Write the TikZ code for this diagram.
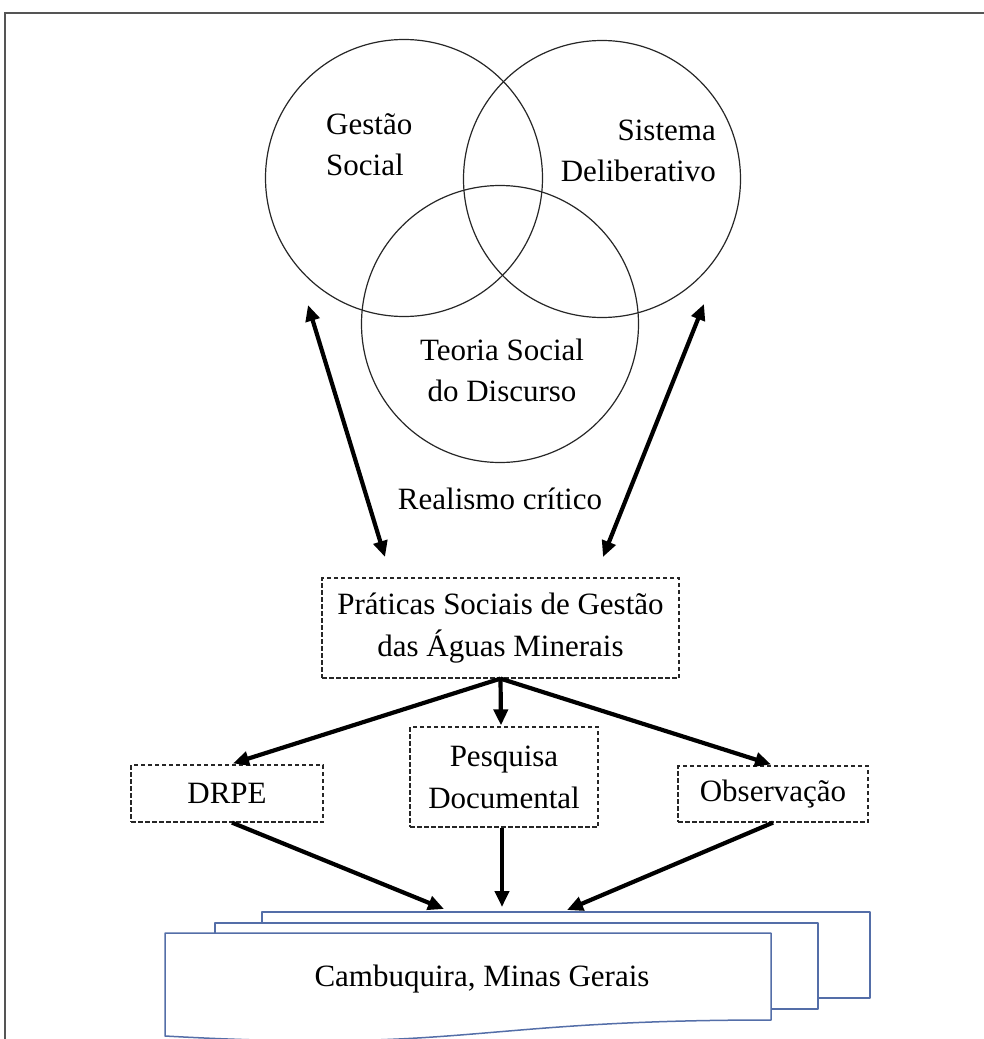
\documentclass[tikz,border=0pt]{standalone}
\usepackage{fontspec}
\setmainfont{Liberation Serif}
\usetikzlibrary{arrows.meta,calc}
\definecolor{docblue}{RGB}{84,110,168}
\definecolor{framegray}{RGB}{85,85,85}
\begin{document}
\begin{tikzpicture}[x=1pt,y=-1pt,
  lbl/.style={font=\fontsize{31}{41}\selectfont, inner sep=0pt},
  venn/.style={circle, draw=black!85, line width=1.2pt, minimum size=277pt, inner sep=0pt},
  dbox/.style={draw=black!85, dash pattern=on 4.5pt off 2.5pt, line width=1.2pt,
    font=\fontsize{31}{42}\selectfont, align=center, inner sep=0pt},
  tip/.tip={Triangle[length=16pt,width=14pt]},
  link/.style={line width=4.2pt, -tip},
  both/.style={line width=4.2pt, tip-tip},
  sheet/.style={draw=docblue, line width=1.5pt, fill=white, line join=round}
]
\useasboundingbox (0,0) rectangle (984,1039);
\clip (0,0) rectangle (984,1039);
% outer frame (runs off the right and bottom edges)
\draw[framegray, line width=2pt] (5,13) rectangle (1010,1070);

% three overlapping circles
\node[venn] (gs) at (404,178) {};
\node[venn] (sd) at (602,179) {};
\node[venn] (tsd) at (500,324) {};
\node[lbl, anchor=west, align=left] (gsl) at (326,145) {Gestão\\Social};
\node[lbl, anchor=east, align=right] (sdl) at (716,151) {Sistema\\Deliberativo};
\node[lbl, align=center] (tsdl) at (502,370) {Teoria Social\\do Discurso};
\node[lbl] (rc) at (500,499) {Realismo crítico};

% two-way links between theory and practice
\coordinate (lt) at (308,305);
\coordinate (lb) at (385,557);
\coordinate (rt) at (704,304);
\coordinate (rb) at (603,557);
\draw[both] (lt) -- (lb);
\draw[both] (rt) -- (rb);

% practice and methods
\node[dbox, minimum width=357pt, minimum height=100pt] (prat) at (500.5,628)
  {Práticas Sociais de Gestão\\das Águas Minerais};
\node[dbox, minimum width=192pt, minimum height=57pt] (drpe) at (227,793.5) {DRPE};
\node[dbox, minimum width=188pt, minimum height=100pt] (pesq) at (504,777) {Pesquisa\\Documental};
\node[dbox, minimum width=190pt, minimum height=56pt] (obs) at (773,794) {Observação};

\draw[link] (prat.south) -- ($(drpe.north)+(6,-1)$);
\draw[link] (prat.south) -- ($(pesq.north)+(-3,-1)$);
\draw[link] (prat.south) -- ($(obs.north)+(-2,-1)$);

% stacked documents for the study site
\draw[sheet] (262,912) rectangle (870,998);
\draw[sheet] (215,923) rectangle (818,1009);
\draw[sheet] (165,933) -- (771,933) -- (771,1020)
  .. controls (468,1020) and (468,1053) .. (165,1036) -- cycle;
\node[lbl] (site) at (482,979) {Cambuquira, Minas Gerais};

\coordinate (ta) at (444,909);
\coordinate (tb) at (502,907);
\coordinate (tc) at (567,910);
\draw[link] ($(drpe.south)+(5,0)$) -- (ta);
\draw[link] ($(pesq.south)+(-2,0)$) -- (tb);
\draw[link] (obs.south) -- (tc);
\end{tikzpicture}
\end{document}
